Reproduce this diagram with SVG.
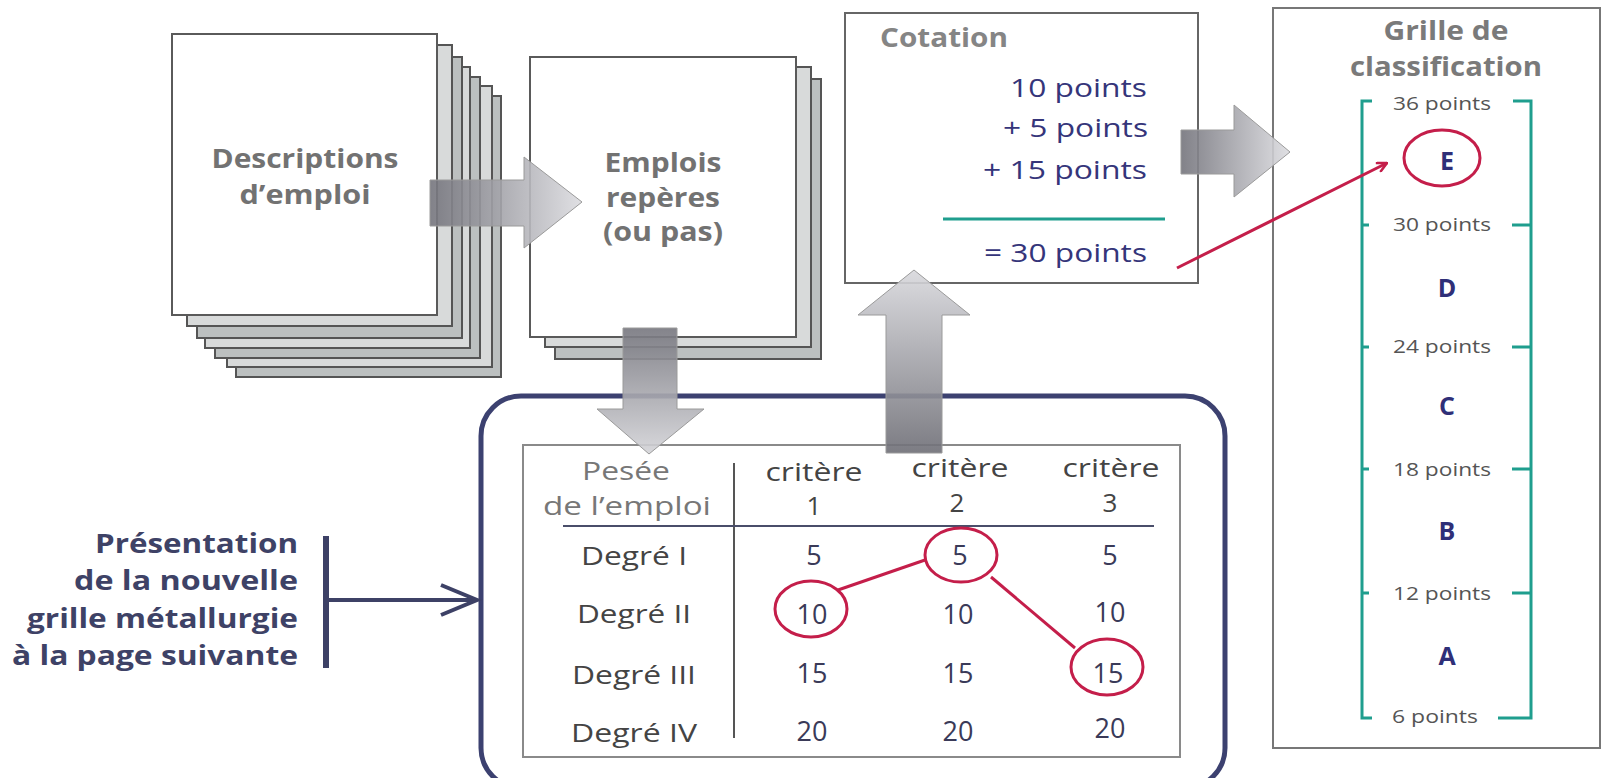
<svg xmlns="http://www.w3.org/2000/svg" width="1608" height="778" viewBox="0 0 1608 778">
<style>
  .page { stroke:#555; stroke-width:2; }
  .front { fill:#fff; stroke:#5a5a5a; stroke-width:2; }
  .pl { fill:#d8dada; }
  .pd { fill:#bcc0c0; }
  .lbl { font-family:"Open Sans", "Liberation Sans", sans-serif; font-weight:700; fill:#727272; font-size:27px; text-anchor:middle; }
  .pts { font-family:"Open Sans", "Liberation Sans", sans-serif; fill:#35357a; font-size:25px; text-anchor:end; }
  .br { font-family:"Open Sans", "Liberation Sans", sans-serif; fill:#555; font-size:18px; text-anchor:middle; }
  .let { font-family:"Open Sans", "Liberation Sans", sans-serif; font-weight:700; fill:#2f2f78; font-size:25px; text-anchor:middle; }
  .pres { font-family:"Open Sans", "Liberation Sans", sans-serif; font-weight:700; fill:#3e4266; font-size:26px; text-anchor:end; }
  .tb { font-family:"Open Sans", "Liberation Sans", sans-serif; fill:#444; font-size:26px; text-anchor:middle; }
  .th { font-family:"Open Sans", "Liberation Sans", sans-serif; fill:#777; font-size:26px; text-anchor:middle; }
  .num { font-family:"Open Sans", "Liberation Sans", sans-serif; fill:#3a3a58; font-size:27px; text-anchor:middle; }
  .red { fill:none; stroke:#c41e4a; stroke-width:3; }
  .teal { fill:none; stroke:#1f9e8e; stroke-width:3; }
  .arr { stroke:#9a9a9a; stroke-width:1; fill-opacity:0.9; }
  .navy { stroke:#3c4170; fill:none; }
</style>
<defs>
  <linearGradient id="gR" x1="0" y1="0" x2="1" y2="0">
    <stop offset="0" stop-color="#74747c"/>
    <stop offset="1" stop-color="#dcdce0"/>
  </linearGradient>
  <linearGradient id="gD" x1="0" y1="0" x2="0" y2="1">
    <stop offset="0" stop-color="#76767e"/>
    <stop offset="1" stop-color="#d4d4d8"/>
  </linearGradient>
  <linearGradient id="gU" x1="0" y1="0" x2="0" y2="1">
    <stop offset="0" stop-color="#d8d8dc"/>
    <stop offset="1" stop-color="#6e6e76"/>
  </linearGradient>
  <marker id="mRed" viewBox="0 0 12 12" refX="11" refY="6" markerWidth="12" markerHeight="12" markerUnits="userSpaceOnUse" orient="auto">
    <path d="M1,1 L11,6 L1,11" fill="none" stroke="#c41e4a" stroke-width="2.5"/>
  </marker>
</defs>

<rect width="1608" height="778" fill="#fff"/>

<g id="descriptions">
  <rect class="page pd" x="236" y="96" width="265" height="281"/>
  <rect class="page pl" x="227" y="86" width="265" height="281"/>
  <rect class="page pd" x="215" y="77" width="265" height="281"/>
  <rect class="page pl" x="205" y="67" width="265" height="281"/>
  <rect class="page pd" x="197" y="57" width="265" height="281"/>
  <rect class="page pl" x="187" y="45" width="265" height="281"/>
  <rect class="front" x="172" y="34" width="265" height="281"/>
  <text class="lbl" x="305" y="168" textLength="187" lengthAdjust="spacingAndGlyphs">Descriptions</text>
  <text class="lbl" x="305" y="204" textLength="131" lengthAdjust="spacingAndGlyphs">d’emploi</text>
</g>

<g id="emplois">
  <rect class="page pd" x="555" y="79" width="266" height="280"/>
  <rect class="page pl" x="545" y="67" width="266" height="280"/>
  <rect class="front" x="530" y="57" width="266" height="280"/>
  <text class="lbl" x="663" y="172" textLength="117" lengthAdjust="spacingAndGlyphs">Emplois</text>
  <text class="lbl" x="663" y="207" textLength="114" lengthAdjust="spacingAndGlyphs">repères</text>
  <text class="lbl" x="663" y="241" textLength="120" lengthAdjust="spacingAndGlyphs">(ou pas)</text>
</g>

<g id="cotation">
  <rect x="845" y="13" width="353" height="270" fill="#fff" stroke="#666" stroke-width="2"/>
  <text class="lbl" x="880" y="47" style="text-anchor:start;fill:#858585" textLength="128" lengthAdjust="spacingAndGlyphs">Cotation</text>
  <text class="pts" x="1147" y="97" textLength="137" lengthAdjust="spacingAndGlyphs">10 points</text>
  <text class="pts" x="1148" y="137" textLength="145" lengthAdjust="spacingAndGlyphs">+ 5 points</text>
  <text class="pts" x="1147" y="179" textLength="164" lengthAdjust="spacingAndGlyphs">+ 15 points</text>
  <line class="teal" x1="943" y1="219" x2="1165" y2="219"/>
  <text class="pts" x="1147" y="262" textLength="163" lengthAdjust="spacingAndGlyphs">= 30 points</text>
</g>

<g id="grille">
  <rect x="1273" y="8" width="327" height="740" fill="#fff" stroke="#777" stroke-width="2"/>
  <text class="lbl" x="1446" y="40" style="fill:#7a7a7a" textLength="125" lengthAdjust="spacingAndGlyphs">Grille de</text>
  <text class="lbl" x="1446" y="76" style="fill:#7a7a7a" textLength="192" lengthAdjust="spacingAndGlyphs">classification</text>
  <path class="teal" d="M1372,101 H1362 V718 H1372 M1513,101 H1531 V718 H1498"/>
  <path class="teal" d="M1362,225 H1369 M1512,225 H1531 M1362,347 H1369 M1512,347 H1531 M1362,469 H1369 M1512,469 H1531 M1362,593 H1369 M1512,593 H1531"/>
  <text class="br" x="1442" y="110" textLength="98" lengthAdjust="spacingAndGlyphs">36 points</text>
  <text class="br" x="1442" y="231" textLength="98" lengthAdjust="spacingAndGlyphs">30 points</text>
  <text class="br" x="1442" y="353" textLength="98" lengthAdjust="spacingAndGlyphs">24 points</text>
  <text class="br" x="1442" y="476" textLength="98" lengthAdjust="spacingAndGlyphs">18 points</text>
  <text class="br" x="1442" y="600" textLength="98" lengthAdjust="spacingAndGlyphs">12 points</text>
  <text class="br" x="1435" y="723" textLength="86" lengthAdjust="spacingAndGlyphs">6 points</text>
  <text class="let" x="1447" y="170">E</text>
  <text class="let" x="1447" y="297">D</text>
  <text class="let" x="1447" y="415">C</text>
  <text class="let" x="1447" y="540">B</text>
  <text class="let" x="1447" y="665">A</text>
  <ellipse class="red" cx="1442" cy="158" rx="38" ry="28"/>
</g>

<g id="presentation">
  <text class="pres" x="298" y="553" textLength="203" lengthAdjust="spacingAndGlyphs">Présentation</text>
  <text class="pres" x="298" y="590" textLength="224" lengthAdjust="spacingAndGlyphs">de la nouvelle</text>
  <text class="pres" x="298" y="628" textLength="271" lengthAdjust="spacingAndGlyphs">grille métallurgie</text>
  <text class="pres" x="298" y="665" textLength="286" lengthAdjust="spacingAndGlyphs">à la page suivante</text>
</g>

<g id="pesee">
  <rect x="481" y="396" width="744" height="392" rx="40" class="navy" stroke-width="5"/>
  <rect x="523" y="445" width="657" height="312" fill="#fff" stroke="#8a8a8a" stroke-width="2"/>
  <line x1="734" y1="463" x2="734" y2="738" stroke="#555" stroke-width="2"/>
  <line x1="563" y1="526" x2="1154" y2="526" stroke="#4a4e6a" stroke-width="2"/>
  <text class="th" x="626" y="480" textLength="88" lengthAdjust="spacingAndGlyphs">Pesée</text>
  <text class="th" x="627" y="515" textLength="168" lengthAdjust="spacingAndGlyphs">de l’emploi</text>
  <text class="tb" x="814" y="481" textLength="97" lengthAdjust="spacingAndGlyphs">critère</text>
  <text class="tb" x="960" y="477" textLength="97" lengthAdjust="spacingAndGlyphs">critère</text>
  <text class="tb" x="1111" y="477" textLength="97" lengthAdjust="spacingAndGlyphs">critère</text>
  <text class="tb" x="814" y="515">1</text>
  <text class="tb" x="957" y="512">2</text>
  <text class="tb" x="1110" y="512">3</text>
  <text class="tb" x="634" y="565" textLength="106" lengthAdjust="spacingAndGlyphs">Degré I</text>
  <text class="tb" x="634" y="623" textLength="114" lengthAdjust="spacingAndGlyphs">Degré II</text>
  <text class="tb" x="634" y="684" textLength="124" lengthAdjust="spacingAndGlyphs">Degré III</text>
  <text class="tb" x="634" y="742" textLength="126" lengthAdjust="spacingAndGlyphs">Degré IV</text>
  <text class="num" x="814" y="565">5</text>
  <text class="num" x="960" y="565">5</text>
  <text class="num" x="1110" y="565">5</text>
  <text class="num" x="812" y="624">10</text>
  <text class="num" x="958" y="624">10</text>
  <text class="num" x="1110" y="622">10</text>
  <text class="num" x="812" y="683">15</text>
  <text class="num" x="958" y="683">15</text>
  <text class="num" x="1108" y="683">15</text>
  <text class="num" x="812" y="741">20</text>
  <text class="num" x="958" y="741">20</text>
  <text class="num" x="1110" y="738">20</text>
  <ellipse class="red" cx="811" cy="609" rx="36" ry="28"/>
  <ellipse class="red" cx="961" cy="555" rx="36" ry="27"/>
  <ellipse class="red" cx="1107" cy="667" rx="36" ry="28"/>
</g>

<g id="connectors">
  <polygon class="arr" fill="url(#gR)" points="430,180 524,180 524,157 582,202 524,248 524,226 430,226"/>
  <polygon class="arr" fill="url(#gD)" points="623,328 677,328 677,409 704,409 649,454 597,409 623,409"/>
  <polygon class="arr" fill="url(#gU)" points="886,453 886,315 858,315 914,270 970,315 942,315 942,453"/>
  <polygon class="arr" fill="url(#gR)" points="1181,130 1234,130 1234,105 1290,152 1234,197 1234,174 1181,174"/>
  <line x1="1177" y1="268" x2="1387" y2="163" stroke="#c41e4a" stroke-width="3" marker-end="url(#mRed)"/>
  <line x1="838" y1="590" x2="925" y2="560" stroke="#c41e4a" stroke-width="3"/>
  <line x1="991" y1="577" x2="1075" y2="648" stroke="#c41e4a" stroke-width="3"/>
  <line x1="326" y1="536" x2="326" y2="668" stroke="#3d4166" stroke-width="6"/>
  <line x1="326" y1="600" x2="475" y2="600" stroke="#3d4166" stroke-width="4"/>
  <polyline points="441,585 477,600 441,615" fill="none" stroke="#3d4166" stroke-width="4"/>
</g>
</svg>
